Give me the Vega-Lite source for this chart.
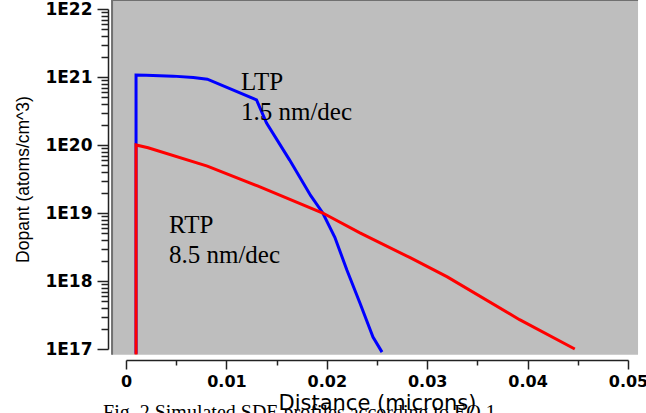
{
  "$schema": "https://vega.github.io/schema/vega-lite/v6.json",
  "autosize": {"type": "none"},
  "padding": {"left": 126, "top": 9, "right": 18, "bottom": 64},
  "width": 502,
  "height": 340,
  "background": "#ffffff",
  "config": {
    "view": {"stroke": null},
    "axis": {
      "grid": false,
      "domainColor": "#222222",
      "tickColor": "#222222",
      "domainWidth": 1.5,
      "tickWidth": 1.5,
      "labelColor": "#000000",
      "labelFont": "DejaVu Sans",
      "labelFontWeight": "bold",
      "labelFontSize": 16,
      "titleColor": "#000000"
    }
  },
  "resolve": {"axis": {"x": "independent", "y": "independent"}},
  "datasets": {
    "profiles": [
      {"profile": "LTP", "i": 0, "d": 0.001, "c": 8.5e16},
      {"profile": "LTP", "i": 1, "d": 0.001, "c": 1.07e21},
      {"profile": "LTP", "i": 2, "d": 0.002, "c": 1.06e21},
      {"profile": "LTP", "i": 3, "d": 0.0047, "c": 1.03e21},
      {"profile": "LTP", "i": 4, "d": 0.0067, "c": 9.8e20},
      {"profile": "LTP", "i": 5, "d": 0.0081, "c": 9.3e20},
      {"profile": "LTP", "i": 6, "d": 0.0130, "c": 4.6e20},
      {"profile": "LTP", "i": 7, "d": 0.0140, "c": 2.1e20},
      {"profile": "LTP", "i": 8, "d": 0.0163, "c": 6.0e19},
      {"profile": "LTP", "i": 9, "d": 0.0184, "c": 1.8e19},
      {"profile": "LTP", "i": 10, "d": 0.0196, "c": 1.0e19},
      {"profile": "LTP", "i": 11, "d": 0.0208, "c": 4.4e18},
      {"profile": "LTP", "i": 12, "d": 0.0220, "c": 1.45e18},
      {"profile": "LTP", "i": 13, "d": 0.0233, "c": 4.75e17},
      {"profile": "LTP", "i": 14, "d": 0.0246, "c": 1.5e17},
      {"profile": "LTP", "i": 15, "d": 0.0255, "c": 9.0e16},
      {"profile": "RTP", "i": 0, "d": 0.001, "c": 8.3e16},
      {"profile": "RTP", "i": 1, "d": 0.001, "c": 1.0e20},
      {"profile": "RTP", "i": 2, "d": 0.0022, "c": 9.1e19},
      {"profile": "RTP", "i": 3, "d": 0.0081, "c": 4.9e19},
      {"profile": "RTP", "i": 4, "d": 0.0131, "c": 2.5e19},
      {"profile": "RTP", "i": 5, "d": 0.0196, "c": 1.0e19},
      {"profile": "RTP", "i": 6, "d": 0.0233, "c": 5.1e18},
      {"profile": "RTP", "i": 7, "d": 0.0283, "c": 2.2e18},
      {"profile": "RTP", "i": 8, "d": 0.0320, "c": 1.15e18},
      {"profile": "RTP", "i": 9, "d": 0.0392, "c": 2.7e17},
      {"profile": "RTP", "i": 10, "d": 0.0447, "c": 1.0e17}
    ],
    "notes": [
      {"t": "LTP", "d": 0.01145, "c": 6.44e20},
      {"t": "1.5 nm/dec", "d": 0.01145, "c": 2.33e20},
      {"t": "RTP", "d": 0.00428, "c": 5.08e18},
      {"t": "8.5 nm/dec", "d": 0.00428, "c": 1.84e18}
    ],
    "caption": [
      {"t": "Fig. 2  Simulated SDE profiles according to EQ.1", "d": -0.00229, "c": 9.3e15}
    ]
  },
  "layer": [
    {
      "data": {"values": [{}]},
      "mark": {"type": "rect", "fill": "#bebebe"},
      "encoding": {
        "x": {
          "datum": -0.00139, "type": "quantitative",
          "scale": {"domain": [0, 0.05], "nice": false, "zero": false},
          "axis": {
            "orient": "bottom",
            "offset": 11,
            "title": null,
            "domain": false,
            "labels": false,
            "tickSize": 5,
            "values": [0.005, 0.015, 0.025, 0.035, 0.045]
          }
        },
        "x2": {"datum": 0.051},
        "y": {
          "datum": 1.355e22, "type": "quantitative",
          "scale": {"type": "log", "domain": [1e17, 1e22], "nice": false},
          "axis": {
            "orient": "left",
            "offset": 18,
            "title": null,
            "domain": false,
            "labels": false,
            "tickSize": 7,
            "values": [2e17, 3e17, 4e17, 5e17, 6e17, 7e17, 8e17, 9e17,
                       2e18, 3e18, 4e18, 5e18, 6e18, 7e18, 8e18, 9e18,
                       2e19, 3e19, 4e19, 5e19, 6e19, 7e19, 8e19, 9e19,
                       2e20, 3e20, 4e20, 5e20, 6e20, 7e20, 8e20, 9e20,
                       2e21, 3e21, 4e21, 5e21, 6e21, 7e21, 8e21, 9e21]
          }
        },
        "y2": {"datum": 8.2e16}
      }
    },
    {
      "data": {"values": [{}]},
      "mark": {"type": "rule", "stroke": "#707070", "strokeWidth": 2},
      "encoding": {
        "x": {"datum": -0.00139, "type": "quantitative", "axis": null},
        "x2": {"datum": 0.051},
        "y": {"datum": 1.355e22, "type": "quantitative", "axis": null}
      }
    },
    {
      "data": {"values": [{}]},
      "mark": {"type": "rule", "stroke": "#707070", "strokeWidth": 2},
      "encoding": {
        "x": {"datum": -0.00139, "type": "quantitative", "axis": null},
        "y": {"datum": 1.355e22, "type": "quantitative", "axis": null},
        "y2": {"datum": 8.2e16}
      }
    },
    {
      "data": {"name": "profiles"},
      "mark": {"type": "line", "strokeWidth": 3, "interpolate": "linear"},
      "encoding": {
        "x": {
          "field": "d", "type": "quantitative",
          "scale": {"domain": [0, 0.05], "nice": false, "zero": false},
          "axis": {
            "orient": "bottom",
            "title": "Distance (microns)",
            "titleFont": "DejaVu Sans",
            "titleFontSize": 21,
            "titleFontWeight": "normal",
            "titlePadding": 3,
            "offset": 11,
            "tickSize": 9,
            "values": [0, 0.01, 0.02, 0.03, 0.04, 0.05],
            "labelExpr": "toString(round(datum.value * 100) / 100)",
            "labelPadding": 4,
            "labelFlush": false,
            "labelOverlap": false
          }
        },
        "y": {
          "field": "c", "type": "quantitative",
          "scale": {"type": "log", "domain": [1e17, 1e22], "nice": false},
          "axis": {
            "orient": "left",
            "title": "Dopant (atoms/cm^3)",
            "titleFont": "Liberation Sans",
            "titleFontSize": 17.5,
            "titleFontWeight": "normal",
            "titlePadding": 12,
            "offset": 18,
            "tickSize": 11,
            "values": [1e17, 1e18, 1e19, 1e20, 1e21, 1e22],
            "labelExpr": "'1E' + round(log(datum.value) / LN10)",
            "labelFontSize": 17,
            "labelPadding": 5,
            "labelFlush": false,
            "labelOverlap": false
          }
        },
        "color": {
          "field": "profile", "type": "nominal",
          "scale": {"domain": ["LTP", "RTP"], "range": ["#0000ff", "#ff0000"]},
          "legend": null
        },
        "order": {"field": "i", "type": "quantitative"}
      }
    },
    {
      "data": {"name": "notes"},
      "mark": {"type": "text", "align": "left", "baseline": "alphabetic", "font": "Liberation Serif", "fontSize": 25, "color": "#000000"},
      "encoding": {
        "x": {"field": "d", "type": "quantitative", "axis": null},
        "y": {"field": "c", "type": "quantitative", "axis": null},
        "text": {"field": "t"}
      }
    },
    {
      "data": {"name": "caption"},
      "mark": {"type": "text", "align": "left", "baseline": "alphabetic", "font": "Liberation Serif", "fontSize": 20, "color": "#000000"},
      "encoding": {
        "x": {"field": "d", "type": "quantitative", "axis": null},
        "y": {"field": "c", "type": "quantitative", "axis": null},
        "text": {"field": "t"}
      }
    }
  ]
}
